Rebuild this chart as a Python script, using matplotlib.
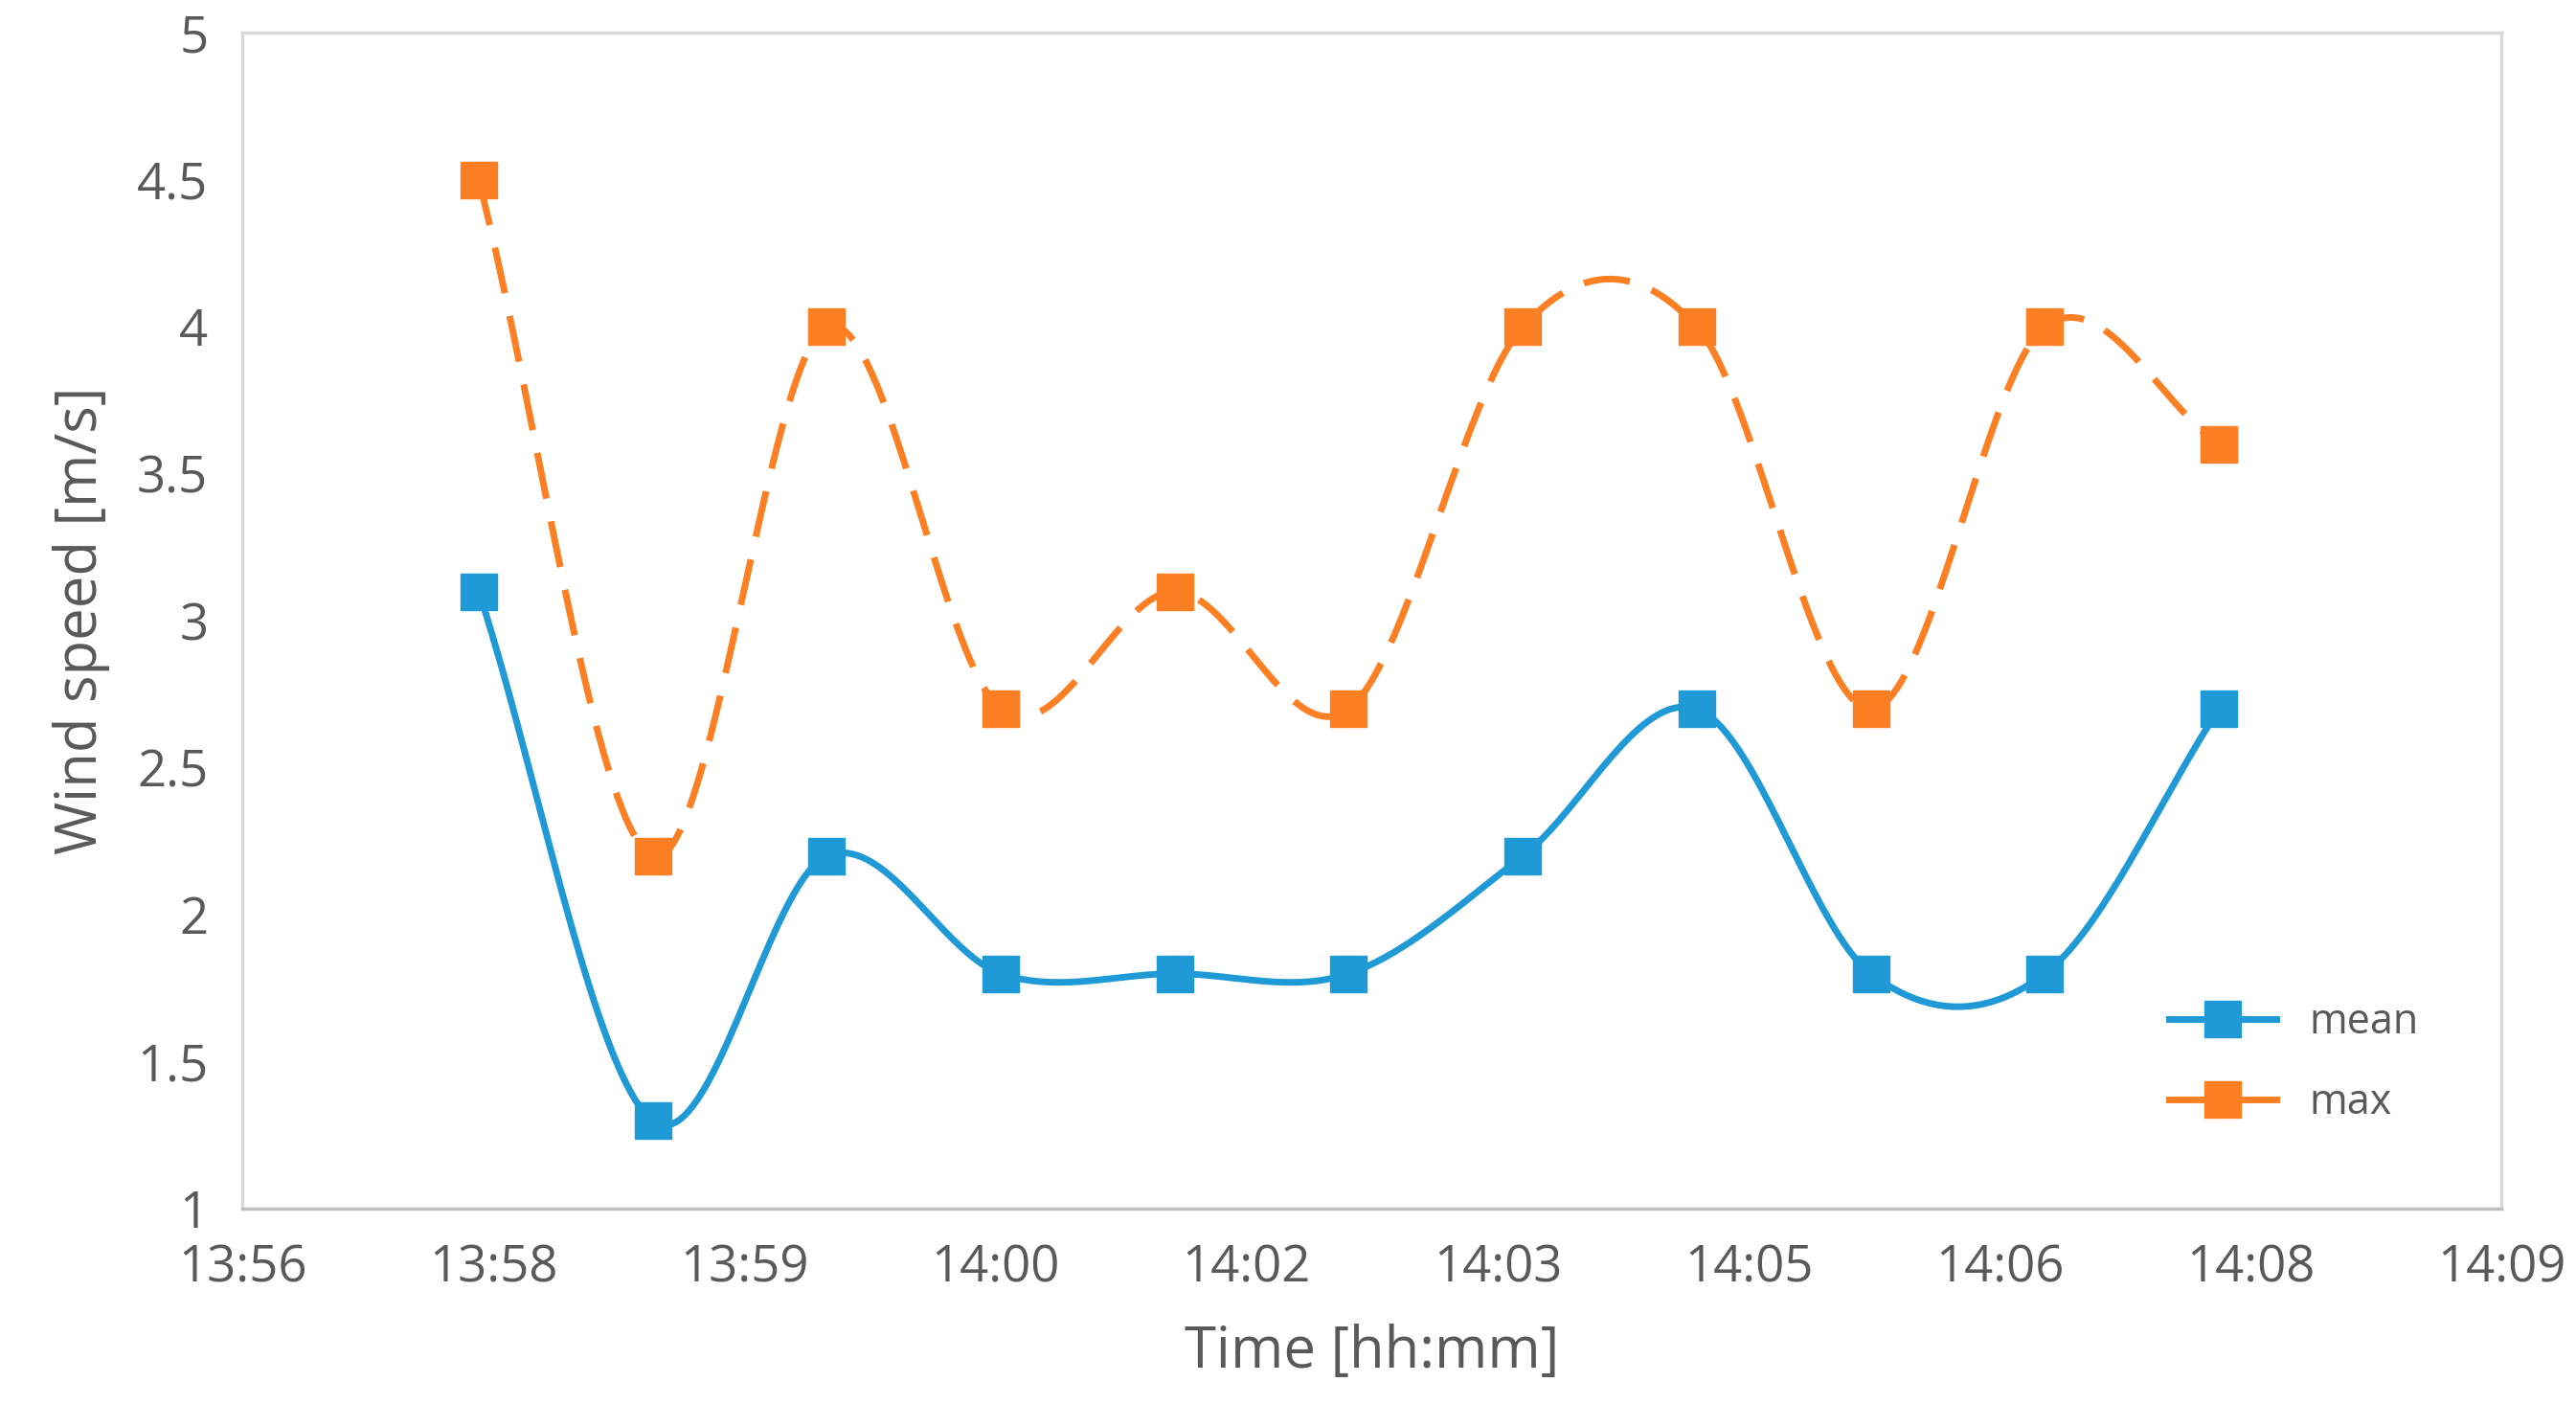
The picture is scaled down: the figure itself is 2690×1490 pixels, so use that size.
"""Wind speed mean/max over time, Excel-style smoothed lines."""
import numpy as np
import matplotlib
matplotlib.use("Agg")
import matplotlib.pyplot as plt

# x positions in minutes after 13:56 (axis ticks every 1.5 min)
sample_minutes = [1.41, 2.45, 3.49, 4.53, 5.57, 6.61, 7.65, 8.69, 9.73, 10.77, 11.81]
mean_speed = [3.1, 1.3, 2.2, 1.8, 1.8, 1.8, 2.2, 2.7, 1.8, 1.8, 2.7]
max_speed = [4.5, 2.2, 4.0, 2.7, 3.1, 2.7, 4.0, 4.0, 2.7, 4.0, 3.6]
tick_labels = ["13:56", "13:58", "13:59", "14:00", "14:02", "14:03",
               "14:05", "14:06", "14:08", "14:09"]

BLUE = "#1f9ad6"
ORANGE = "#fd7f23"
GREY = "#595959"

plt.rcParams["font.family"] = ["Open Sans", "DejaVu Sans"]


def smooth(xs, ys, n=40):
    """Catmull-Rom curve through the points, like Excel's smoothed line."""
    x = np.asarray(xs, float)
    y = np.asarray(ys, float)
    px = np.concatenate([[2 * x[0] - x[1]], x, [2 * x[-1] - x[-2]]])
    py = np.concatenate([[2 * y[0] - y[1]], y, [2 * y[-1] - y[-2]]])
    ox, oy = [], []
    t = np.linspace(0, 1, n)
    for i in range(1, len(px) - 2):
        for p, out in ((px, ox), (py, oy)):
            p0, p1, p2, p3 = p[i - 1], p[i], p[i + 1], p[i + 2]
            out.extend(0.5 * (2 * p1 + (-p0 + p2) * t
                              + (2 * p0 - 5 * p1 + 4 * p2 - p3) * t ** 2
                              + (-p0 + 3 * p1 - 3 * p2 + p3) * t ** 3))
    return ox, oy


fig = plt.figure(figsize=(26.9, 14.9), dpi=100)
ax = fig.add_axes([147 / 1560, 1 - 737 / 870, (1515 - 147) / 1560, (737 - 20) / 870])

mx, my = smooth(sample_minutes, mean_speed)
ax.plot(mx, my, color=BLUE, lw=5)
ax.plot(sample_minutes, mean_speed, ls="none", marker="s", ms=28, color=BLUE)
ax.plot([], [], color=BLUE, lw=5, marker="s", ms=28, label="mean")

xx, xy = smooth(sample_minutes, max_speed)
ax.plot(xx, xy, color=ORANGE, lw=5, dashes=(7, 3.5))
ax.plot(sample_minutes, max_speed, ls="none", marker="s", ms=28, color=ORANGE)
ax.plot([], [], color=ORANGE, lw=5, marker="s", ms=28, label="max")

ax.set_xlim(0, 13.5)
ax.set_xticks(np.arange(len(tick_labels)) * 1.5)
ax.set_xticklabels(tick_labels)
ax.set_ylim(1, 5)
ax.set_yticks([1, 1.5, 2, 2.5, 3, 3.5, 4, 4.5, 5])
ax.set_yticklabels(["1", "1.5", "2", "2.5", "3", "3.5", "4", "4.5", "5"])
ax.tick_params(length=0, labelsize=38, colors=GREY, pad=26)
for s in ax.spines.values():
    s.set_color("#d9d9d9")
    s.set_linewidth(2.5)
ax.spines["bottom"].set_color("#bfbfbf")

ax.set_xlabel("Time [hh:mm]", fontsize=43, color=GREY, labelpad=22)
ax.set_ylabel("Wind speed [m/s]", fontsize=43, color=GREY, labelpad=20)

ax.legend(loc="lower right", frameon=False, fontsize=31, labelcolor=GREY,
          handlelength=2.6, labelspacing=0.9, borderaxespad=0.8,
          bbox_to_anchor=(0.985, 0.03))

fig.savefig("out.png", dpi=100)
